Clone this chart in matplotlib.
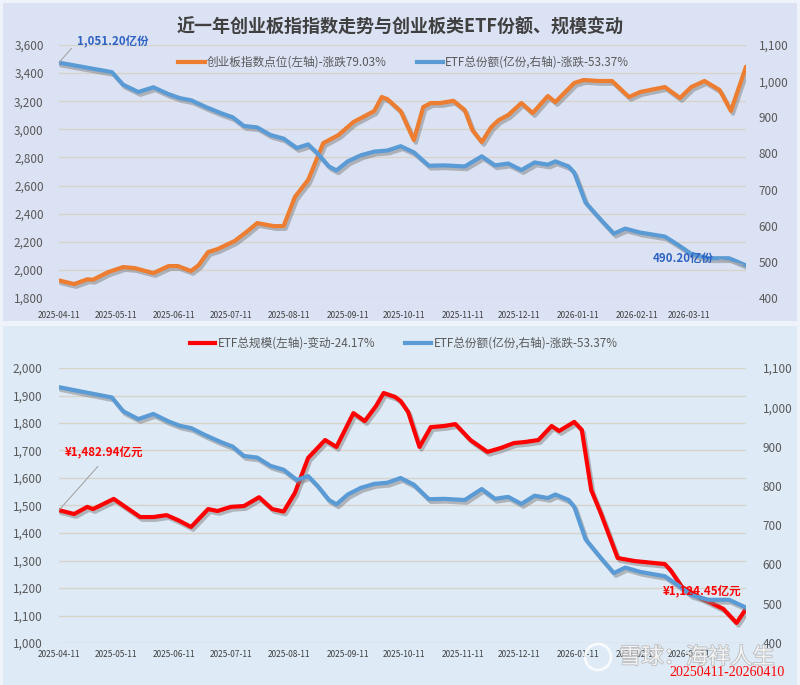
import matplotlib
matplotlib.use('Agg')
import matplotlib.pyplot as plt
import matplotlib.dates as mdates
import matplotlib.patheffects as pe
from matplotlib.lines import Line2D
from matplotlib.patches import Rectangle, Ellipse
from matplotlib.ticker import FuncFormatter, MultipleLocator
import pandas as pd

plt.rcParams['font.family'] = ['Noto Sans CJK SC', 'DejaVu Sans']

# 创业板指数点位
idx_dates = ['2025-04-11', '2025-04-19', '2025-04-26', '2025-04-29', '2025-05-07', '2025-05-15',
             '2025-05-21', '2025-05-31', '2025-06-08', '2025-06-13', '2025-06-20', '2025-06-24',
             '2025-06-29', '2025-07-04', '2025-07-13', '2025-07-20', '2025-07-25', '2025-08-03',
             '2025-08-08', '2025-08-14', '2025-08-21', '2025-08-26', '2025-08-29', '2025-09-06',
             '2025-09-14', '2025-09-25', '2025-09-29', '2025-10-02', '2025-10-09', '2025-10-16',
             '2025-10-21', '2025-10-25', '2025-10-30', '2025-11-06', '2025-11-12', '2025-11-16',
             '2025-11-21', '2025-11-26', '2025-11-30', '2025-12-05', '2025-12-12', '2025-12-18',
             '2025-12-26', '2025-12-30', '2026-01-09', '2026-01-14', '2026-01-22', '2026-01-29',
             '2026-02-07', '2026-02-13', '2026-02-26', '2026-03-06', '2026-03-12', '2026-03-19',
             '2026-03-27', '2026-04-02', '2026-04-10']
idx_values = [1925, 1899, 1933, 1930, 1984, 2020, 2013, 1977, 2027, 2027, 1992, 2034,
              2127, 2148, 2205, 2277, 2333, 2311, 2312, 2519, 2640, 2803, 2902, 2959,
              3052, 3130, 3230, 3215, 3130, 2924, 3159, 3187, 3187, 3203, 3137, 2995,
              2910, 3016, 3066, 3102, 3187, 3116, 3237, 3194, 3330, 3351, 3344, 3344,
              3230, 3266, 3301, 3223, 3301, 3344, 3280, 3131, 3446]

# ETF总份额(亿份)
share_dates = ['2025-04-11', '2025-04-24', '2025-05-09', '2025-05-15', '2025-05-23', '2025-05-31',
               '2025-06-08', '2025-06-14', '2025-06-20', '2025-06-28', '2025-07-06', '2025-07-12',
               '2025-07-18', '2025-07-25', '2025-08-01', '2025-08-08', '2025-08-15', '2025-08-21',
               '2025-08-26', '2025-09-01', '2025-09-05', '2025-09-11', '2025-09-18', '2025-09-25',
               '2025-10-02', '2025-10-09', '2025-10-16', '2025-10-24', '2025-11-01', '2025-11-12',
               '2025-11-21', '2025-11-28', '2025-12-05', '2025-12-12', '2025-12-19', '2025-12-26',
               '2025-12-30', '2026-01-06', '2026-01-09', '2026-01-15', '2026-01-23', '2026-01-30',
               '2026-02-05', '2026-02-13', '2026-02-26', '2026-03-05', '2026-03-12', '2026-03-21',
               '2026-04-01', '2026-04-10']
share_values = [1051.2, 1039, 1025, 990, 970, 983, 964, 953, 947, 928, 911, 900,
                876, 872, 851, 841, 815, 825, 800, 764, 753, 778, 795, 805,
                808, 820, 803, 766, 767, 764, 792, 767, 772, 754, 775, 769,
                778, 764, 747, 664, 617, 578, 592, 581, 570, 547, 522, 510,
                510, 490.2]

# ETF总规模(亿元)
size_dates = ['2025-04-11', '2025-04-19', '2025-04-26', '2025-04-29', '2025-05-10', '2025-05-24',
              '2025-05-31', '2025-06-07', '2025-06-13', '2025-06-20', '2025-06-29', '2025-07-04',
              '2025-07-11', '2025-07-18', '2025-07-26', '2025-08-02', '2025-08-08', '2025-08-14',
              '2025-08-21', '2025-08-30', '2025-09-05', '2025-09-14', '2025-09-20', '2025-09-26',
              '2025-09-30', '2025-10-06', '2025-10-09', '2025-10-13', '2025-10-19', '2025-10-25',
              '2025-11-01', '2025-11-07', '2025-11-15', '2025-11-24', '2025-12-01', '2025-12-08',
              '2025-12-14', '2025-12-21', '2025-12-28', '2026-01-01', '2026-01-09', '2026-01-13',
              '2026-01-18', '2026-01-23', '2026-02-01', '2026-02-10', '2026-02-26', '2026-03-01',
              '2026-03-07', '2026-03-17', '2026-03-29', '2026-04-05', '2026-04-10']
size_values = [1482.94, 1469, 1495, 1487, 1524, 1458, 1458, 1465, 1447, 1422, 1487, 1480,
               1495, 1498, 1530, 1487, 1478, 1546, 1673, 1738, 1713, 1836, 1807, 1862,
               1909, 1895, 1880, 1840, 1713, 1785, 1789, 1796, 1738, 1695, 1709, 1727,
               1731, 1738, 1789, 1771, 1804, 1775, 1556, 1473, 1309, 1298, 1287, 1265,
               1204, 1164, 1124, 1073, 1124.45]

tick_dates = ['2025-04-11', '2025-05-11', '2025-06-11', '2025-07-11', '2025-08-11', '2025-09-11',
              '2025-10-11', '2025-11-11', '2025-12-11', '2026-01-11', '2026-02-11', '2026-03-11']

title = '近一年创业板指指数走势与创业板类ETF份额、规模变动'
idx_label = '创业板指数点位(左轴)-涨跌79.03%'
share_label = 'ETF总份额(亿份,右轴)-涨跌-53.37%'
size_label = 'ETF总规模(左轴)-变动-24.17%'

ORANGE = '#ED7D31'
BLUE = '#5B9BD5'
RED = '#FF0000'
GRID = '#d6d3cb'
TXT = '#595959'

W, H = 800, 685
fx = lambda px: px / W
fy = lambda py: 1 - py / H

fig = plt.figure(figsize=(8, 6.85), dpi=100, facecolor='#eef2f9')
fig.add_artist(Rectangle((fx(3), fy(321)), fx(794), 318 / H, transform=fig.transFigure,
                         facecolor='#dbe2f3', edgecolor='none', zorder=-10))
fig.add_artist(Rectangle((fx(3), 0), fx(794), 359 / H, transform=fig.transFigure,
                         facecolor='#deeaf6', edgecolor='none', zorder=-10))

shadow = [pe.SimpleLineShadow(offset=(1.5, -2), shadow_color='#7f7f7f', alpha=0.5), pe.Normal()]
d = lambda l: pd.to_datetime(l)
xmin, xmax = pd.Timestamp('2025-04-11'), pd.Timestamp('2026-04-10')
num = lambda v, p: f'{v:,.0f}'


def style(ax, ax_r, xpad, lpad, rpad):
    ax.set_facecolor('none')
    for a in (ax, ax_r):
        for s in a.spines.values():
            s.set_visible(False)
        a.yaxis.set_major_formatter(FuncFormatter(num))
    ax.set_xlim(xmin, xmax)
    ax.set_xticks(d(tick_dates))
    ax.xaxis.set_major_formatter(mdates.DateFormatter('%Y-%m-%d'))
    ax.tick_params(axis='x', length=0, pad=xpad, labelsize=6, labelcolor='#404040')
    for lb in ax.get_xticklabels():
        lb.set_fontweight('medium')
    ax.tick_params(axis='y', length=0, pad=lpad, labelsize=8.5, labelcolor=TXT)
    ax_r.tick_params(axis='y', length=0, pad=rpad, labelsize=8.5, labelcolor=TXT)
    ax.grid(axis='y', color=GRID, lw=1)
    ax.set_axisbelow(True)


def draw(ax, x, y, color):
    ax.plot(d(x), y, color=color, lw=3, solid_joinstyle='round', solid_capstyle='round',
            path_effects=shadow)


# ---- top panel ----
ax1 = fig.add_axes([fx(59), fy(298), 687 / W, 253 / H])
ax1r = ax1.twinx()
ax1.set_ylim(1800, 3600)
ax1.yaxis.set_major_locator(MultipleLocator(200))
ax1r.set_ylim(400, 1100)
ax1r.yaxis.set_major_locator(MultipleLocator(100))
style(ax1, ax1r, 9, 11, 9)
draw(ax1, idx_dates, idx_values, ORANGE)
draw(ax1r, share_dates, share_values, BLUE)

ax1r.annotate(f'{share_values[0]:,.2f}亿份', xy=(d(share_dates[0]), share_values[0]),
              xytext=(77, H - 42), textcoords='figure pixels', ha='left', va='center',
              fontsize=8.3, fontweight='bold', color='#2f62c2',
              arrowprops=dict(arrowstyle='-', color='#a6a6a6', lw=0.8, relpos=(0, 0.5),
                              shrinkA=3, shrinkB=0))
ax1r.annotate(f'{share_values[-1]:,.2f}亿份', xy=(d(share_dates[-1]), share_values[-1]),
              xytext=(714, H - 258), textcoords='figure pixels', ha='right', va='center',
              fontsize=8.3, fontweight='bold', color='#2f62c2',
              arrowprops=dict(arrowstyle='-', color='#a6a6a6', lw=0.8, relpos=(1, 0.5),
                              shrinkA=2, shrinkB=2))

fig.text(fx(400), fy(27), title, ha='center', va='center', fontsize=13, fontweight='bold', color='#404040')
fig.add_artist(Line2D([fx(178), fx(205)], [fy(62)] * 2, color=ORANGE, lw=3, transform=fig.transFigure))
fig.text(fx(207), fy(62), idx_label, ha='left', va='center', fontsize=8.4, color=TXT)
fig.add_artist(Line2D([fx(417), fx(443)], [fy(62)] * 2, color=BLUE, lw=3, transform=fig.transFigure))
fig.text(fx(445), fy(62), share_label, ha='left', va='center', fontsize=8.4, color=TXT)

# ---- bottom panel ----
ax2 = fig.add_axes([fx(59), fy(643), 687 / W, 275 / H])
ax2r = ax2.twinx()
ax2.set_ylim(1000, 2000)
ax2.yaxis.set_major_locator(MultipleLocator(100))
ax2r.set_ylim(400, 1100)
ax2r.yaxis.set_major_locator(MultipleLocator(100))
style(ax2, ax2r, 5, 12, 12)
draw(ax2, size_dates, size_values, RED)
draw(ax2r, share_dates, share_values, BLUE)

ax2.annotate(f'¥{size_values[0]:,.2f}亿元', xy=(d(size_dates[0]), size_values[0]),
             xytext=(104, H - 453), textcoords='figure pixels', ha='center', va='center',
             fontsize=8.3, fontweight='bold', color=RED,
             arrowprops=dict(arrowstyle='-', color='#a6a6a6', lw=0.8, relpos=(0.5, 0),
                             shrinkA=4, shrinkB=0))
ax2r.annotate(f'¥{size_values[-1]:,.2f}亿元', xy=(d(size_dates[-1]), 500),
              xytext=(702, H - 592), textcoords='figure pixels', ha='center', va='center',
              fontsize=8.3, fontweight='bold', color=RED, zorder=5)

fig.add_artist(Line2D([fx(190), fx(215)], [fy(343)] * 2, color=RED, lw=3, transform=fig.transFigure))
fig.text(fx(218), fy(343), size_label, ha='left', va='center', fontsize=8.4, color=TXT)
fig.add_artist(Line2D([fx(405), fx(431)], [fy(343)] * 2, color=BLUE, lw=3, transform=fig.transFigure))
fig.text(fx(434), fy(343), share_label, ha='left', va='center', fontsize=8.4, color=TXT)

# watermark
fig.add_artist(Ellipse((fx(598), fy(657)), 26 / W, 26 / H, transform=fig.transFigure,
                       facecolor='none', edgecolor='white', lw=2, alpha=0.8))
fig.text(fx(697), fy(657), '雪球：海祥人生', ha='center', va='center', fontsize=16,
         color='white', alpha=0.8,
         path_effects=[pe.withStroke(linewidth=1.2, foreground='#b0b0b0')])
fig.text(fx(727), fy(673), '20250411-20260410', ha='center', va='center', fontsize=10,
         color=RED, family='Liberation Serif')

fig.savefig('out.png', dpi=100)
